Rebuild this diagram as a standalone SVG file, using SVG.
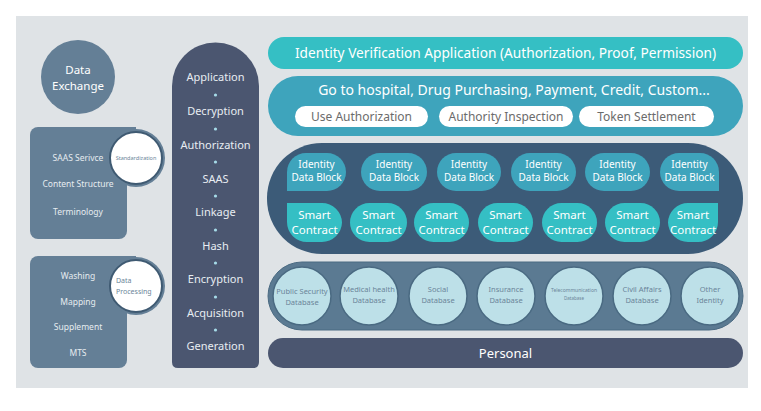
<svg xmlns="http://www.w3.org/2000/svg" width="761" height="411" viewBox="0 0 761 411">
<style>
text{font-family:"Noto Sans","Liberation Sans",sans-serif;text-anchor:middle}
.w{fill:#ffffff}
.lt{fill:#e6ecf0;font-size:8.5px}
.mid{fill:#e8edf2;font-size:11px}
.dot{fill:#a6dbe8}
.idb{fill:#3ea4bc}
.sc{fill:#35bfc4}
.db{fill:#bde0e8;stroke:#4a6a82;stroke-width:1.5}
.dbt{fill:#6b8599;font-size:7.5px}
.pill{fill:#ffffff}
.pt{fill:#6b6b6b;font-size:12px}
.ring{fill:#ffffff;stroke:#3f5a72;stroke-width:2}
</style>
<rect x="0" y="0" width="761" height="411" fill="#ffffff"/>
<rect x="16" y="16" width="732" height="372" fill="#dfe3e6"/>
<g id="data-exchange">
<circle cx="78" cy="77" r="37" fill="#647f96"/>
<text x="78" y="74" class="w" font-size="11.5">Data</text>
<text x="78" y="90" class="w" font-size="11.5">Exchange</text>
</g>
<g id="standardization-box">
<rect x="30" y="127" width="97" height="112" rx="8" fill="#647f96"/>
<circle cx="136" cy="158" r="29" fill="#647f96"/>
<rect x="100" y="127" width="36" height="20" fill="#647f96"/>
<circle cx="136" cy="158" r="26" class="ring"/>
<text x="136" y="160" fill="#6b8599" font-size="5.5">Standardization</text>
<text x="78" y="161" class="lt">SAAS Serivce</text>
<text x="78" y="187" class="lt">Content Structure</text>
<text x="78" y="215" class="lt">Terminology</text>
</g>
<g id="data-processing-box">
<rect x="30" y="256" width="97" height="112" rx="8" fill="#647f96"/>
<circle cx="136" cy="286" r="29" fill="#647f96"/>
<rect x="100" y="256" width="36" height="20" fill="#647f96"/>
<circle cx="136" cy="286" r="26" class="ring"/>
<text x="116" y="283" fill="#6b8599" font-size="7" style="text-anchor:start">Data</text>
<text x="116" y="294" fill="#6b8599" font-size="7" style="text-anchor:start">Processing</text>
<text x="78" y="279" class="lt">Washing</text>
<text x="78" y="305" class="lt">Mapping</text>
<text x="78" y="330" class="lt">Supplement</text>
<text x="78" y="356" class="lt">MTS</text>
</g>
<g id="process-column">
<path d="M172 86 A43.5 43.5 0 0 1 259 86 L259 362 Q259 368 253 368 L178 368 Q172 368 172 362 Z" fill="#4b5670"/>
<text x="215.5" y="81" class="mid">Application</text>
<circle cx="215.5" cy="95" r="1.6" class="dot"/>
<text x="215.5" y="115" class="mid">Decryption</text>
<circle cx="215.5" cy="129" r="1.6" class="dot"/>
<text x="215.5" y="149" class="mid">Authorization</text>
<circle cx="215.5" cy="162" r="1.6" class="dot"/>
<text x="215.5" y="183" class="mid">SAAS</text>
<circle cx="215.5" cy="196" r="1.6" class="dot"/>
<text x="215.5" y="216" class="mid">Linkage</text>
<circle cx="215.5" cy="230" r="1.6" class="dot"/>
<text x="215.5" y="250" class="mid">Hash</text>
<circle cx="215.5" cy="263" r="1.6" class="dot"/>
<text x="215.5" y="283" class="mid">Encryption</text>
<circle cx="215.5" cy="297" r="1.6" class="dot"/>
<text x="215.5" y="317" class="mid">Acquisition</text>
<circle cx="215.5" cy="330" r="1.6" class="dot"/>
<text x="215.5" y="350" class="mid">Generation</text>
</g>
<g id="identity-verification">
<rect x="268" y="37" width="475" height="32" rx="16" fill="#35bfc4"/>
<text x="505.5" y="58" class="w" font-size="13.7">Identity Verification Application (Authorization, Proof, Permission)</text>
</g>
<g id="scenarios">
<rect x="268" y="76" width="475" height="60" rx="30" fill="#3ea4bc"/>
<text x="514" y="95" class="w" font-size="14">Go to hospital, Drug Purchasing, Payment, Credit, Custom...</text>
<rect x="295" y="106" width="133" height="21" rx="10.5" class="pill"/>
<text x="361.5" y="121" class="pt">Use Authorization</text>
<rect x="439" y="106" width="134" height="21" rx="10.5" class="pill"/>
<text x="506" y="121" class="pt">Authority Inspection</text>
<rect x="579" y="106" width="135" height="21" rx="10.5" class="pill"/>
<text x="646.5" y="121" class="pt">Token Settlement</text>
</g>
<g id="blockchain">
<rect x="267" y="143" width="476" height="111" rx="55" fill="#3c5b78"/>
<path d="M287 191 L287 172 A19 19 0 0 1 306 153 L327 153 A19 19 0 0 1 346 172 A19 19 0 0 1 327 191 Z" class="idb"/>
<text x="316.5" y="168" class="w" font-size="10">Identity</text><text x="316.5" y="181" class="w" font-size="10">Data Block</text>
<rect x="361" y="153" width="66" height="38" rx="19" class="idb"/>
<text x="394" y="168" class="w" font-size="10">Identity</text><text x="394" y="181" class="w" font-size="10">Data Block</text>
<rect x="437" y="153" width="64" height="38" rx="19" class="idb"/>
<text x="469" y="168" class="w" font-size="10">Identity</text><text x="469" y="181" class="w" font-size="10">Data Block</text>
<rect x="511" y="153" width="65" height="38" rx="19" class="idb"/>
<text x="543.5" y="168" class="w" font-size="10">Identity</text><text x="543.5" y="181" class="w" font-size="10">Data Block</text>
<rect x="585" y="153" width="65" height="38" rx="19" class="idb"/>
<text x="617.5" y="168" class="w" font-size="10">Identity</text><text x="617.5" y="181" class="w" font-size="10">Data Block</text>
<path d="M719 191 L719 172 A19 19 0 0 0 700 153 L679 153 A19 19 0 0 0 660 172 A19 19 0 0 0 679 191 Z" class="idb"/>
<text x="689.5" y="168" class="w" font-size="10">Identity</text><text x="689.5" y="181" class="w" font-size="10">Data Block</text>
<path d="M287 203 L322 203 A20 20 0 0 1 342 222.5 A20 20 0 0 1 322 242 L307 242 A20 20 0 0 1 287 222 Z" class="sc"/>
<text x="314.5" y="219" class="w" font-size="11.5">Smart</text><text x="314.5" y="234" class="w" font-size="11.5">Contract</text>
<rect x="350" y="203" width="57" height="39" rx="19.5" class="sc"/>
<text x="378.5" y="219" class="w" font-size="11.5">Smart</text><text x="378.5" y="234" class="w" font-size="11.5">Contract</text>
<rect x="414" y="203" width="55" height="39" rx="19.5" class="sc"/>
<text x="441.5" y="219" class="w" font-size="11.5">Smart</text><text x="441.5" y="234" class="w" font-size="11.5">Contract</text>
<rect x="478" y="203" width="55" height="39" rx="19.5" class="sc"/>
<text x="505.5" y="219" class="w" font-size="11.5">Smart</text><text x="505.5" y="234" class="w" font-size="11.5">Contract</text>
<rect x="542" y="203" width="55" height="39" rx="19.5" class="sc"/>
<text x="569.5" y="219" class="w" font-size="11.5">Smart</text><text x="569.5" y="234" class="w" font-size="11.5">Contract</text>
<rect x="605" y="203" width="55" height="39" rx="19.5" class="sc"/>
<text x="632.5" y="219" class="w" font-size="11.5">Smart</text><text x="632.5" y="234" class="w" font-size="11.5">Contract</text>
<path d="M718 203 L688 203 A20 20 0 0 0 668 222.5 A20 20 0 0 0 688 242 L698 242 A20 20 0 0 0 718 222 Z" class="sc"/>
<text x="693" y="219" class="w" font-size="11.5">Smart</text><text x="693" y="234" class="w" font-size="11.5">Contract</text>
</g>
<g id="databases">
<rect x="268" y="262" width="475" height="68" rx="34" fill="#5b7a92" stroke="#4a6a82" stroke-width="1"/>
<circle cx="302" cy="296" r="29" class="db"/>
<text x="302" y="294" class="dbt">Public Security</text><text x="302" y="305" class="dbt">Database</text>
<circle cx="369" cy="296" r="29" class="db"/>
<text x="369" y="292" class="dbt">Medical health</text><text x="369" y="303" class="dbt">Database</text>
<circle cx="438" cy="296" r="29" class="db"/>
<text x="438" y="292" class="dbt">Social</text><text x="438" y="303" class="dbt">Database</text>
<circle cx="506" cy="296" r="29" class="db"/>
<text x="506" y="292" class="dbt">Insurance</text><text x="506" y="303" class="dbt">Database</text>
<circle cx="574" cy="296" r="29" class="db"/>
<text x="574" y="292" class="dbt" style="font-size:5px">Telecommunication</text><text x="574" y="300" class="dbt" style="font-size:4.5px">Database</text>
<circle cx="642" cy="296" r="29" class="db"/>
<text x="642" y="292" class="dbt">Civil Affairs</text><text x="642" y="303" class="dbt">Database</text>
<circle cx="710" cy="296" r="29" class="db"/>
<text x="710" y="292" class="dbt">Other</text><text x="710" y="303" class="dbt">Identity</text>
</g>
<g id="personal">
<rect x="268" y="338" width="475" height="30" rx="15" fill="#4b5670"/>
<text x="505.5" y="358" class="w" font-size="13">Personal</text>
</g>
</svg>
